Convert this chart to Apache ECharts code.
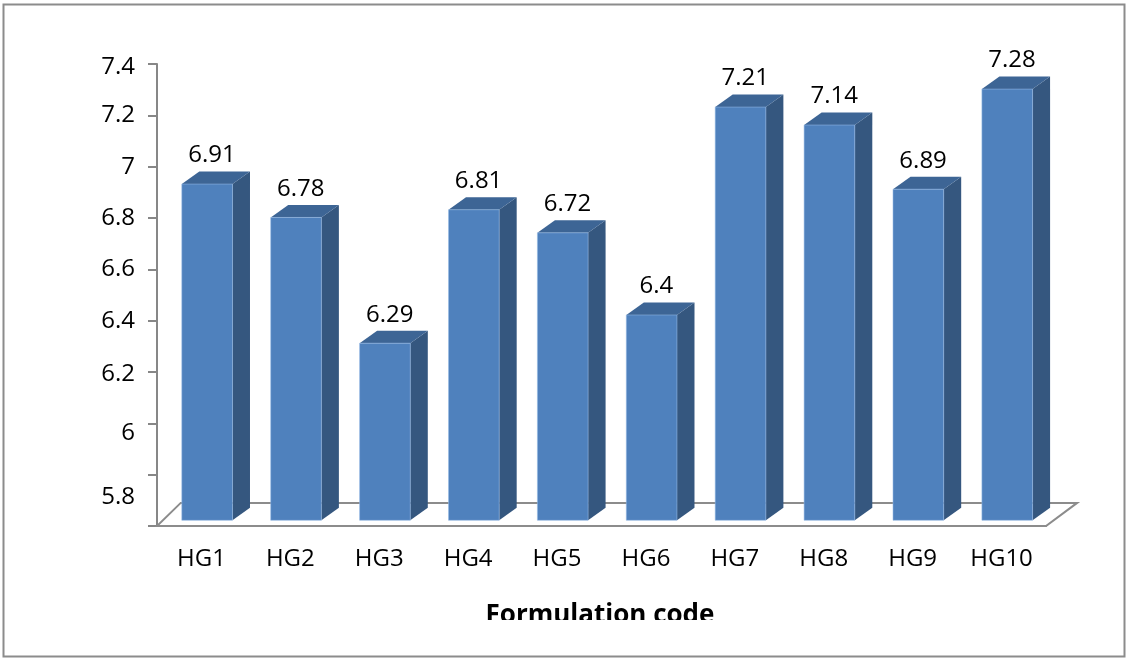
<!DOCTYPE html>
<html>
<head>
<meta charset="utf-8">
<script src="https://cdn.jsdelivr.net/npm/echarts@6/dist/echarts.min.js"></script>
<style>
  html, body { margin: 0; padding: 0; background: #ffffff; }
  #chart { width: 1126px; height: 659px; }
</style>
</head>
<body>
<div id="chart"></div>
<script>
// Formulation codes and their measured values
const categories = ['HG1', 'HG2', 'HG3', 'HG4', 'HG5', 'HG6', 'HG7', 'HG8', 'HG9', 'HG10'];
const values = [6.91, 6.78, 6.29, 6.81, 6.72, 6.4, 7.21, 7.14, 6.89, 7.28];

// Value axis range and step
const axisMin = 5.6;
const axisMax = 7.4;
const axisStep = 0.2;

const xAxisTitle = 'Formulation code';

// Styling
const FONT = '"Open Sans", Lato, sans-serif';
const FONT_SIZE = 24;
const AXIS_GREY = '#878787';
const FRONT = '#4f81bd';
const SIDE = '#35577f';
const TOP = '#3d6595';

// Vertical nudges of some value-axis labels (pixels down)
const labelNudge = { '7.4': 3, '6.2': 2, '6': 10, '5.8': 22 };

const chart = echarts.init(document.getElementById('chart'), null, { renderer: 'canvas' });

// Oblique 3-D geometry as fractions of the category band width
const G = {
  barWidth: 0.57,
  faceShift: 0.064,   // front face set back from the floor's front edge
  depthX: 0.197,
  depthY: 0.141,
  floorLeftX: 0.267,
  floorRightX: 0.35,
  floorDepthY: 0.26
};

function renderFloor(params, api) {
  const band = api.size([1, 0])[0];
  const p = api.coord([0, axisMin]);
  const xL = p[0] - band / 2;
  const xR = xL + band * categories.length;
  const y = p[1];
  return {
    type: 'polygon',
    shape: {
      points: [
        [xL, y], [xR, y],
        [xR + band * G.floorRightX, y - band * G.floorDepthY],
        [xL + band * G.floorLeftX, y - band * G.floorDepthY]
      ]
    },
    style: { fill: '#ffffff', stroke: '#8c8c8c', lineWidth: 2 }
  };
}

function renderBar(params, api) {
  const idx = api.value(0);
  const val = api.value(1);
  const top = api.coord([idx, val]);
  const base = api.coord([idx, axisMin]);
  const band = api.size([1, 0])[0];
  const w = band * G.barWidth;
  const shift = band * G.faceShift;
  const dx = band * G.depthX;
  const dy = -band * G.depthY;
  const xL = top[0] - w / 2 + shift;
  const xR = xL + w;
  const yT = top[1] - shift;
  const yB = base[1] - shift;
  return {
    type: 'group',
    children: [
      {
        type: 'polygon',
        shape: { points: [[xR, yT], [xR + dx, yT + dy], [xR + dx, yB + dy], [xR, yB]] },
        style: { fill: SIDE }
      },
      {
        type: 'polygon',
        shape: { points: [[xL, yT], [xL + dx, yT + dy], [xR + dx, yT + dy], [xR, yT]] },
        style: { fill: TOP }
      },
      {
        type: 'rect',
        shape: { x: xL, y: yT, width: w, height: yB - yT },
        style: { fill: FRONT, stroke: 'rgba(150,185,230,0.55)', lineWidth: 1 }
      },
      {
        type: 'text',
        style: {
          text: String(val),
          x: (xL + xR) / 2 + dx / 2 - 4,
          y: yT + dy - 4,
          align: 'center',
          verticalAlign: 'bottom',
          fill: '#000000',
          font: FONT_SIZE + 'px ' + FONT
        }
      }
    ]
  };
}

const rich = {};
Object.keys(labelNudge).forEach(function (k) {
  rich['n' + labelNudge[k]] = {
    fontSize: FONT_SIZE, fontFamily: FONT, color: '#000',
    padding: [labelNudge[k] * 2, 0, 0, 0]
  };
});

const option = {
  backgroundColor: '#ffffff',
  animation: false,
  grid: { left: 157, right: 80, top: 64, bottom: 133 },
  xAxis: {
    type: 'category',
    data: categories,
    axisLine: { show: true, lineStyle: { color: AXIS_GREY, width: 2 } },
    axisTick: { show: false },
    axisLabel: { margin: 21, fontSize: FONT_SIZE, fontFamily: FONT, color: '#000000' },
    splitLine: { show: false }
  },
  yAxis: {
    type: 'value',
    min: axisMin,
    max: axisMax,
    interval: axisStep,
    axisLine: { show: true, lineStyle: { color: AXIS_GREY, width: 2 } },
    axisTick: { show: true, length: 9, lineStyle: { color: AXIS_GREY, width: 2 } },
    splitLine: { show: false },
    axisLabel: {
      margin: 22,
      fontSize: FONT_SIZE,
      fontFamily: FONT,
      color: '#000000',
      rich: rich,
      formatter: function (v) {
        const key = String(Math.round(v * 10) / 10);
        if (Math.abs(v - axisMin) < 1e-6) return '';
        const n = labelNudge[key];
        return n ? '{n' + n + '|' + key + '}' : key;
      }
    }
  },
  graphic: [
    {
      type: 'rect',
      shape: { x: 3.5, y: 4.5, width: 1121, height: 652 },
      style: { fill: 'none', stroke: '#8c8c8c', lineWidth: 2 },
      z: 100
    },
    {
      type: 'text',
      x: 600,
      y: 603,
      style: {
        text: xAxisTitle,
        align: 'center',
        verticalAlign: 'top',
        fill: '#000000',
        font: 'bold 26px ' + FONT
      },
      z: 50
    },
    {
      type: 'rect',
      shape: { x: 400, y: 620, width: 400, height: 34 },
      style: { fill: '#ffffff' },
      z: 60
    }
  ],
  series: [
    {
      type: 'custom',
      name: 'floor',
      coordinateSystem: 'cartesian2d',
      renderItem: renderFloor,
      data: [[0, axisMin]],
      clip: false,
      silent: true,
      z: 1
    },
    {
      type: 'custom',
      name: 'value',
      coordinateSystem: 'cartesian2d',
      renderItem: renderBar,
      encode: { x: 0, y: 1 },
      data: values.map(function (v, i) { return [i, v]; }),
      clip: false,
      z: 3
    }
  ]
};

chart.setOption(option);
</script>
</body>
</html>
